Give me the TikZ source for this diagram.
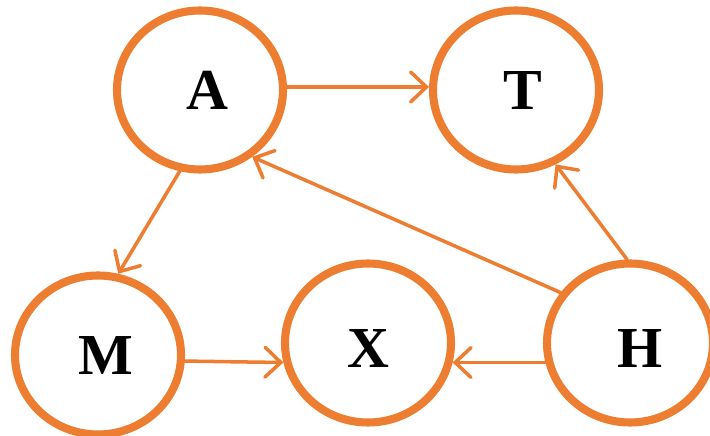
\documentclass[tikz,border=0pt]{standalone}
\usepackage{fontspec}
\setmainfont{Liberation Serif}
\usepackage{xcolor}
\usetikzlibrary{shapes.geometric, arrows.meta}
\definecolor{NetOrange}{RGB}{237,125,49}

\begin{document}
\begin{tikzpicture}[
          var/.style={ellipse, draw=NetOrange, line width=4.6pt, fill=white,
                      minimum width=3.32cm, minimum height=3.18cm, inner sep=0pt,
                      text height=0.77cm, text depth=0cm,
                      font=\fontsize{33}{33}\selectfont\bfseries},
          low/.style={text height=1.0cm, text depth=0cm},
          arr/.style={-{Straight Barb[length=9pt, width=17pt, line cap=round]},
                      line width=2pt, NetOrange, line cap=round}
        ]
        \useasboundingbox (0,0) rectangle (14.2,8.72);

        \node[var] (A) at (4.0,  6.92) {\hspace*{0.28cm}A};
        \node[var] (T) at (10.32, 6.92) {\hspace*{0.28cm}T};
        \node[var] (M) at (1.96, 1.62) {\hspace*{0.3cm}M};
        \node[var, low] (X) at (7.36, 1.86) {X};
        \node[var, low] (H) at (12.6, 1.86) {\hspace*{0.4cm}H};

        % Edges
        \draw[arr] (A.2)   -- (T.178);
        \draw[arr] (A.256) -- (M.76);
        \draw[arr] (M.356) -- (X.193);
        \draw[arr] (H.193) -- (X.347);
        \draw[arr] (H.144) -- (A.308);
        \draw[arr] (H.92)  -- (T.298);
      \end{tikzpicture}
\end{document}
